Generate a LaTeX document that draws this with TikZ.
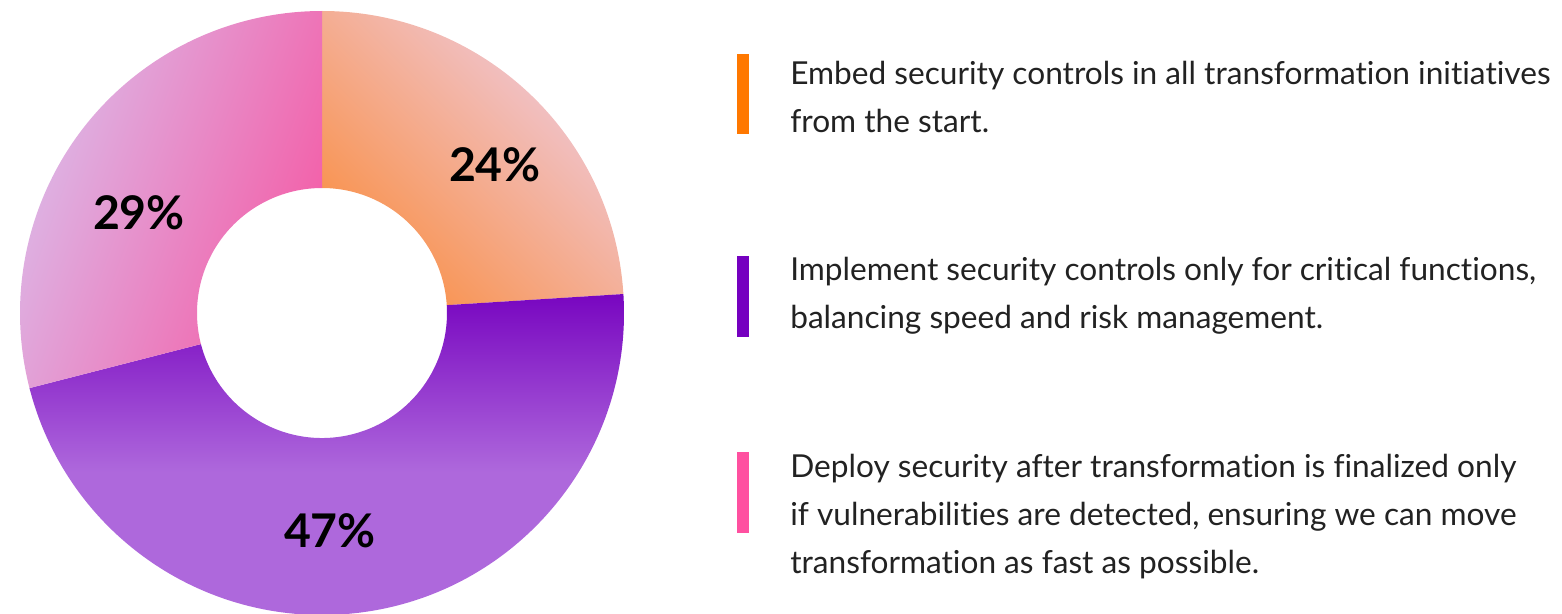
\documentclass[tikz,border=0pt]{standalone}
\usepackage{fontspec}
\setmainfont{Lato}[Ligatures=NoCommon]
\usetikzlibrary{positioning}
\definecolor{barorange}{HTML}{FF7800}
\definecolor{barpurple}{HTML}{7500C0}
\definecolor{barpink}{HTML}{FF50A0}
\definecolor{sliceorange}{HTML}{F9914A}
\definecolor{slicerose}{HTML}{EFCBDF}
\definecolor{slicepink}{HTML}{F45CA6}
\definecolor{slicelilac}{HTML}{DABFEC}
\definecolor{slicedark}{HTML}{7806C0}
\definecolor{slicelight}{HTML}{AE68DC}
\definecolor{legendgray}{HTML}{222222}
\pgfdeclareverticalshading{purpleslice}{100bp}{color(0bp)=(slicelight); color(48bp)=(slicelight); color(75bp)=(slicedark); color(100bp)=(slicedark)}
\tikzstyle{legendbar} = [rectangle, inner sep=0pt, minimum width=0.3cm, minimum height=2cm]
\tikzstyle{legend} = [anchor=base west, inner sep=0pt, align=left, text=legendgray, font=\fontsize{22.5}{34}\selectfont]
\tikzstyle{pct} = [inner sep=0pt, font=\bfseries\fontsize{33}{33}\selectfont]

\begin{document}
\begin{tikzpicture}[x=0.025cm, y=0.025cm]
	\useasboundingbox (-322,-300) rectangle (1240,313);
	% donut slices
	\shade [bottom color=sliceorange, top color=slicerose, shading angle=-45]
		(90:302) arc[start angle=90, end angle=3.6, radius=302] -- (3.6:125) arc[start angle=3.6, end angle=90, radius=125] -- cycle;
	\shade [shading=purpleslice]
		(3.6:302) arc[start angle=3.6, end angle=-165.6, radius=302] -- (-165.6:125) arc[start angle=-165.6, end angle=3.6, radius=125] -- cycle;
	\shade [left color=slicelilac, right color=slicepink, shading angle=70]
		(-165.6:302) arc[start angle=-165.6, end angle=-270, radius=302] -- (90:125) arc[start angle=90, end angle=194.4, radius=125] -- cycle;
	\node (Pct24) [pct] at (173,148) {24\%};
	\node (Pct29) [pct] at (-183,100) {29\%};
	\node (Pct47) [pct] at (8,-218) {47\%};
	% legend (base = last line)
	\node (EmbedBar) [legendbar, fill=barorange] at (421,219) {};
	\node (ImplementBar) [legendbar, fill=barpurple] at (421,16.5) {};
	\node (DeployBar) [legendbar, fill=barpink] at (421,-179.5) {};
	\node (EmbedText) [legend] at (468,181) {Embed security controls in all transformation initiatives\\from the start.};
	\node (ImplementText) [legend] at (468,-15) {Implement security controls only for critical functions,\\balancing speed and risk management.};
	\node (DeployText) [legend] at (468,-260) {Deploy security after transformation is finalized only\\if vulnerabilities are detected, ensuring we can move\\transformation as fast as possible.};
\end{tikzpicture}
\end{document}
